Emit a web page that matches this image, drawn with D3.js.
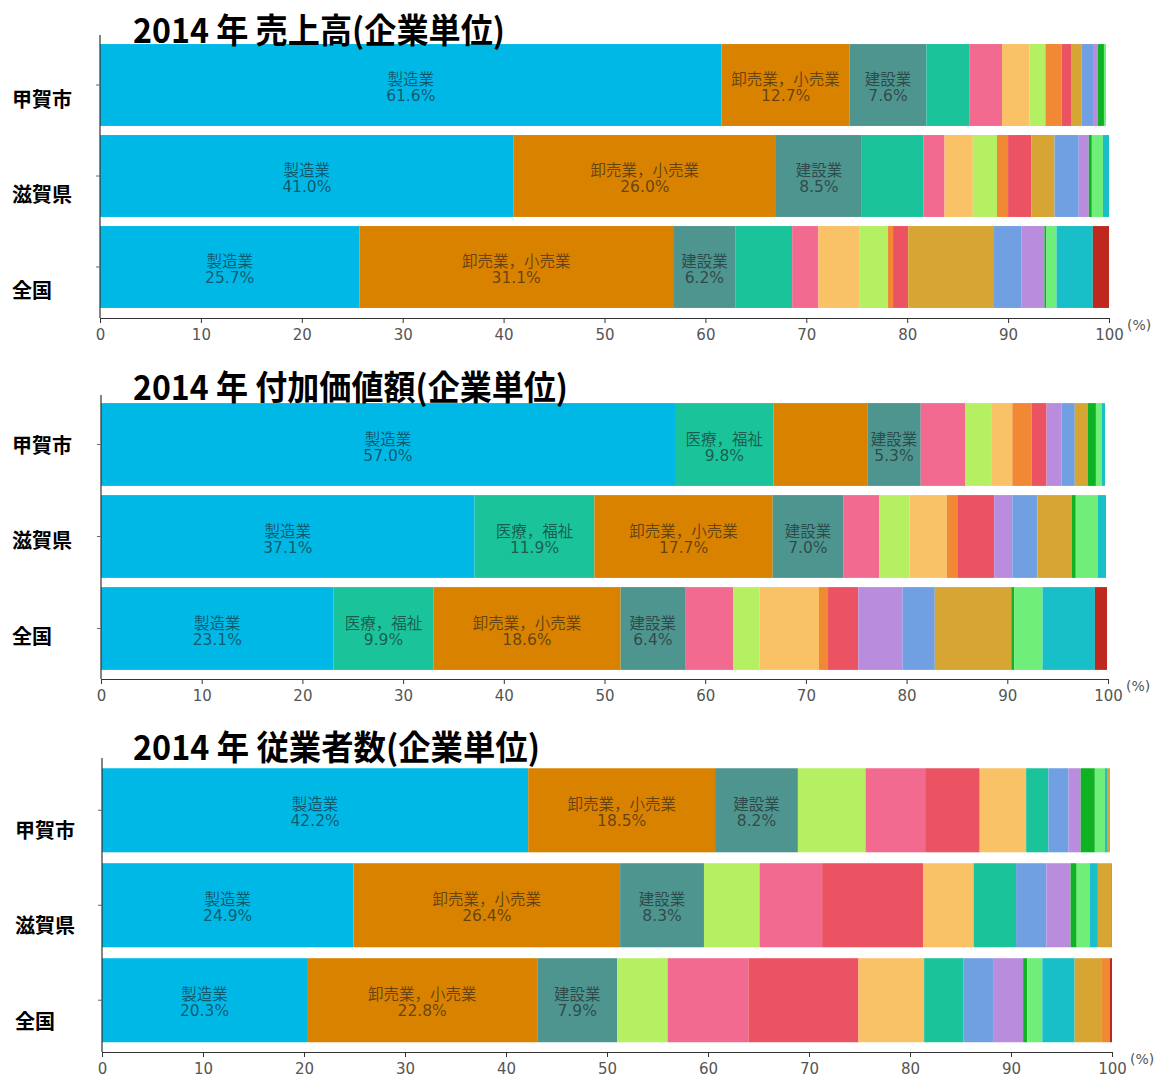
<!DOCTYPE html>
<html>
<head>
<meta charset="utf-8">
<script src="https://cdn.jsdelivr.net/npm/d3@7"></script>
<style>
body { margin: 0; background: #fff; }
text { font-family: "DejaVu Sans", Verdana, "Noto Sans CJK JP", sans-serif; }
</style>
</head>
<body>
<svg id="chart" width="1160" height="1079"></svg>
<script>
/* data */
var areas = ['甲賀市', '滋賀県', '全国'];

// industry keys in the order each chart stacks them
var salesKeys = ['製造業', '卸売業，小売業', '建設業', '医療，福祉', '業種E', '業種F', '業種G', '業種H',
                 '業種I', '業種J', '業種K', '業種L', '業種M', '業種N', '業種O', '業種P'];
var salesKoka  = [61.6, 12.7, 7.6, 4.3, 3.2, 2.7, 1.6, 1.6, 1.0, 1.0, 1.2, 0.4, 0.6, 0.2, 0, 0];
var salesShiga = [41.0, 26.0, 8.5, 6.1, 2.1, 2.8, 2.4, 1.1, 2.3, 2.3, 2.4, 1.0, 0.3, 1.1, 0.6, 0];
var salesJapan = [25.7, 31.1, 6.2, 5.6, 2.6, 4.1, 2.8, 0.5, 1.5, 8.5, 2.7, 2.3, 0.2, 1.0, 3.6, 1.6];

var valueKeys = ['製造業', '医療，福祉', '卸売業，小売業', '建設業', '業種E', '業種G', '業種F', '業種H',
                 '業種I', '業種L', '業種K', '業種J', '業種M', '業種N', '業種O', '業種P'];
var valueKoka  = [57.0, 9.8, 9.3, 5.3, 4.4, 2.6, 2.1, 1.9, 1.5, 1.5, 1.3, 1.3, 0.8, 0.6, 0.3, 0];
var valueShiga = [37.1, 11.9, 17.7, 7.0, 3.6, 3.0, 3.7, 1.1, 3.6, 1.8, 2.5, 3.4, 0.4, 2.2, 0.8, 0];
var valueJapan = [23.1, 9.9, 18.6, 6.4, 4.8, 2.6, 5.9, 0.9, 3.0, 4.4, 3.2, 7.6, 0.3, 2.8, 5.2, 1.2];

var workKeys = ['製造業', '卸売業，小売業', '建設業', '業種G', '業種E', '業種I', '業種F', '医療，福祉',
                '業種K', '業種L', '業種M', '業種N', '業種O', '業種J', '業種H', '業種P'];
var workKoka  = [42.2, 18.5, 8.2, 6.7, 5.9, 5.4, 4.6, 2.2, 2.0, 1.2, 1.4, 1.0, 0.2, 0.3, 0, 0];
var workShiga = [24.9, 26.4, 8.3, 5.5, 6.2, 10.0, 5.0, 4.2, 3.0, 2.4, 0.6, 1.3, 0.8, 1.3, 0.1, 0];
var workJapan = [20.3, 22.8, 7.9, 5.0, 8.0, 10.9, 6.5, 3.9, 3.0, 2.9, 0.4, 1.5, 3.2, 2.7, 0.8, 0.2];

// which segments carry a label, per area
var salesLabels = [['製造業', '卸売業，小売業', '建設業'], ['製造業', '卸売業，小売業', '建設業'], ['製造業', '卸売業，小売業', '建設業']];
var valueLabels = [['製造業', '医療，福祉', '建設業'], ['製造業', '医療，福祉', '卸売業，小売業', '建設業'], ['製造業', '医療，福祉', '卸売業，小売業', '建設業']];
var workLabels  = [['製造業', '卸売業，小売業', '建設業'], ['製造業', '卸売業，小売業', '建設業'], ['製造業', '卸売業，小売業', '建設業']];

var xTicks = [0, 10, 20, 30, 40, 50, 60, 70, 80, 90, 100];

/* styles */
var colors = {
  '製造業': '#00b8e6', '卸売業，小売業': '#d88200', '建設業': '#4e948f', '医療，福祉': '#1bc39b',
  '業種E': '#f26a8f', '業種F': '#f9c267', '業種G': '#b5f062', '業種H': '#f08834',
  '業種I': '#eb5262', '業種J': '#d6a534', '業種K': '#70a0e1', '業種L': '#b98cde',
  '業種M': '#0fb223', '業種N': '#70ee7a', '業種O': '#19bfc8', '業種P': '#be281e'
};

// areaDy: offset of each area name (centre) from its bar centre
var charts = [
  { title: '2014 年  売上高(企業単位)', keys: salesKeys, values: [salesKoka, salesShiga, salesJapan], labels: salesLabels,
    top: 39.5, bottom: 312.5, pad: 0.1, axisY: 318, lineTop: 35, x0: 100, x1: 1109, titleY: 43, titleW: 372,
    labelX: 12, areaDy: [14, 18, 23] },
  { title: '2014 年  付加価値額(企業単位)', keys: valueKeys, values: [valueKoka, valueShiga, valueJapan], labels: valueLabels,
    top: 398.5, bottom: 674.5, pad: 0.1, axisY: 679, lineTop: 395, x0: 101, x1: 1108, titleY: 400, titleW: 435,
    labelX: 12, areaDy: [0, 3, 7] },
  { title: '2014 年  従業者数(企業単位)', keys: workKeys, values: [workKoka, workShiga, workJapan], labels: workLabels,
    top: 763.5, bottom: 1047, pad: 0.115, axisY: 1052, lineTop: 758, x0: 102, x1: 1112, titleY: 760, titleW: 407,
    labelX: 15, areaDy: [20, 20, 21] }
];

var svg = d3.select('#chart');

var drawChart = function(c) {
  var g = svg.append('g');
  var rows = areas.map(function(a, i) {
    var row = { area: a, idx: i };
    c.keys.forEach(function(k, j) { row[k] = c.values[i][j]; });
    return row;
  });
  var series = d3.stack().keys(c.keys)(rows);

  var x = d3.scaleLinear().domain([0, 100]).range([c.x0, c.x1]);
  var y = d3.scaleBand().domain(areas).range([c.top, c.bottom]).paddingInner(c.pad).paddingOuter(0.05);

  // bars
  series.forEach(function(s) {
    g.append('g').attr('fill', colors[s.key])
      .selectAll('rect').data(s).enter().append('rect')
      .attr('x', function(d) { return x(d[0]); })
      .attr('y', function(d) { return y(d.data.area); })
      .attr('width', function(d) { return Math.max(0, x(d[1]) - x(d[0])); })
      .attr('height', y.bandwidth());
  });

  // segment labels
  series.forEach(function(s) {
    s.forEach(function(d) {
      if (c.labels[d.data.idx].indexOf(s.key) < 0) return;
      var cx = (x(d[0]) + x(d[1])) / 2;
      var cy = y(d.data.area) + y.bandwidth() / 2;
      var t = g.append('text').attr('text-anchor', 'middle')
        .attr('fill', '#1a1a1a').attr('fill-opacity', 0.62).style('font-size', '15.5px');
      t.append('tspan').attr('x', cx).attr('y', cy).text(s.key);
      t.append('tspan').attr('x', cx).attr('y', cy + 16).text((d[1] - d[0]).toFixed(1) + '%');
    });
  });

  // y axis
  g.append('line').attr('x1', c.x0).attr('x2', c.x0).attr('y1', c.lineTop).attr('y2', c.axisY)
    .attr('stroke', '#333').attr('stroke-width', 1.2);
  g.selectAll('.ytick').data(areas).enter().append('line')
    .attr('x1', c.x0 - 4).attr('x2', c.x0)
    .attr('y1', function(d) { return y(d) + y.bandwidth() / 2; })
    .attr('y2', function(d) { return y(d) + y.bandwidth() / 2; })
    .attr('stroke', '#666');
  g.selectAll('.area').data(areas).enter().append('text')
    .attr('x', c.labelX)
    .attr('y', function(d, i) { return y(d) + y.bandwidth() / 2 + c.areaDy[i] + 8; })
    .style('font-family', '"Noto Sans CJK JP", sans-serif')
    .style('font-weight', 'bold').style('font-size', '20px').attr('fill', '#000')
    .text(function(d) { return d; });

  // x axis
  var ax = g.append('g').attr('transform', 'translate(0,' + c.axisY + ')')
    .call(d3.axisBottom(x).tickValues(xTicks).tickSize(5).tickSizeOuter(0));
  ax.select('.domain').attr('stroke', '#333').attr('stroke-width', 1.2);
  ax.selectAll('.tick line').attr('stroke', '#333');
  ax.selectAll('.tick text').attr('fill', '#555').style('font-size', '15px')
    .style('font-family', '"DejaVu Sans", Verdana, sans-serif').attr('dy', '0.9em');
  g.append('text').attr('x', c.x1 + 18).attr('y', c.axisY + 12)
    .attr('fill', '#555').style('font-size', '14px').text('(%)');

  // title
  g.append('text').attr('x', 133).attr('y', c.titleY)
    .attr('textLength', c.titleW).attr('lengthAdjust', 'spacingAndGlyphs')
    .style('font-family', '"Noto Sans CJK JP", sans-serif')
    .style('font-weight', 'bold').style('font-size', '34px').attr('fill', '#000')
    .text(c.title);
};

charts.forEach(drawChart);
</script>
</body>
</html>
